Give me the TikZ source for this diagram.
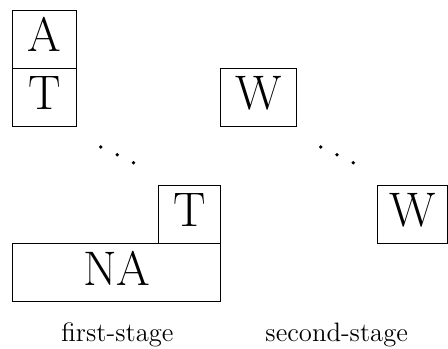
\documentclass[tikz,border=0pt]{standalone}
\begin{document}
\begin{tikzpicture}[x=0.4274pt,y=-0.4274pt,
  cell/.style={draw, rectangle, inner sep=0pt, minimum height=24.92pt,
    text height=17.8pt, text depth=7.12pt, font=\huge},
  lab/.style={anchor=base, inner sep=0pt, font=\fontsize{11.4}{13}\selectfont},
  dot/.style={fill=black}]
\useasboundingbox (0,0) rectangle (448,349);
% first stage
\node[cell, minimum width=27.35pt] (A)  at (44.7,39.2) {A};
\node[cell, minimum width=27.35pt] (T1) at (44.7,97.5) {T};
\node[cell, minimum width=26.67pt] (T2) at (189.5,214.3) {T};
\node[cell, minimum width=88.9pt]  (NA) at (116.7,272.6) {NA};
\fill[dot] (100.7,147) circle (0.8pt) (117.3,154.8) circle (0.8pt) (133.5,162.7) circle (0.8pt);
% second stage
\node[cell, minimum width=32.48pt] (W1) at (258.7,97.5) {W};
\node[cell, minimum width=29.75pt] (W2) at (412.5,214.3) {W};
\fill[dot] (320.7,147) circle (0.8pt) (337,154.8) circle (0.8pt) (353.3,162.7) circle (0.8pt);
% labels
\node[lab] (l1) at (117.5,341.7) {first-stage};
\node[lab] (l2) at (336.7,341.7) {second-stage};
\end{tikzpicture}
\end{document}
